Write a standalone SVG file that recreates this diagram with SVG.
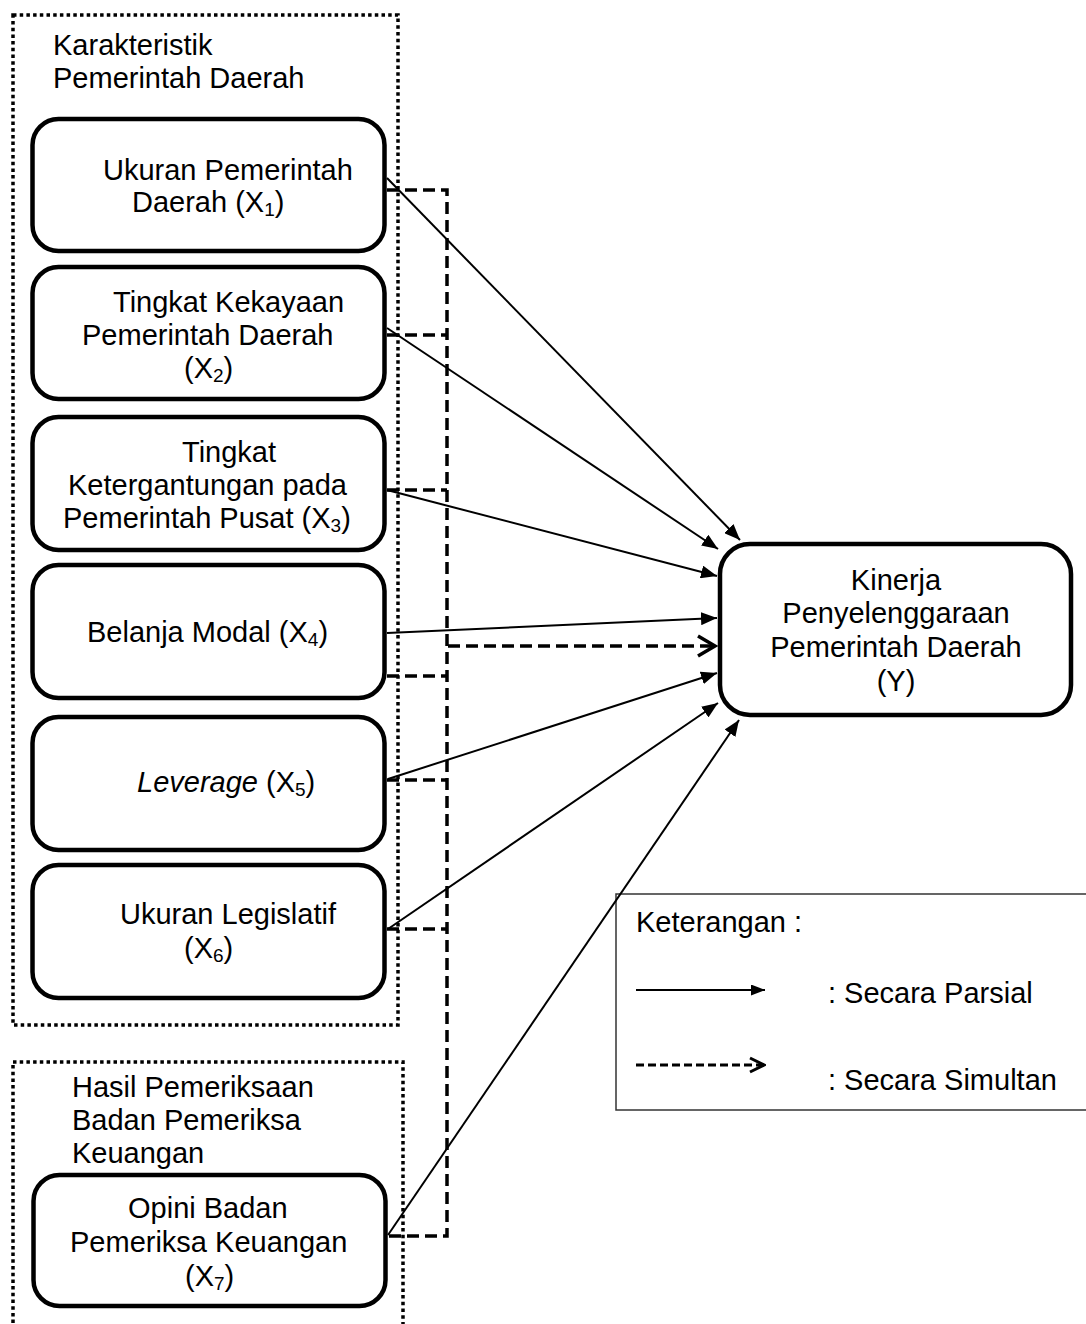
<svg xmlns="http://www.w3.org/2000/svg" width="1086" height="1324" viewBox="0 0 1086 1324">
<style>
text{font-family:"Liberation Sans",Arial,sans-serif;font-size:29px;fill:#000}
.sub{font-size:19px}
.node{fill:#fff;stroke:#000;stroke-width:4.5}
.group{fill:none;stroke:#000;stroke-width:3.5;stroke-dasharray:3.5 3.2}
.solid{fill:none;stroke:#000;stroke-width:2}
.dash{fill:none;stroke:#000;stroke-width:3.5;stroke-dasharray:12 6}
</style>
<defs>
<marker id="ah" viewBox="0 0 16 13" refX="16" refY="6.5" markerWidth="16" markerHeight="13" markerUnits="userSpaceOnUse" orient="auto">
<path d="M0,0 L16,6.5 L0,13 Z" fill="#000"/>
</marker>
<marker id="oh" viewBox="-2 -2 22 24" refX="17" refY="10" markerWidth="22" markerHeight="24" markerUnits="userSpaceOnUse" orient="auto">
<path d="M0,0 L17,10 L0,20" fill="none" stroke="#000" stroke-width="3.5"/>
</marker>
<marker id="ahs" viewBox="0 0 14 11" refX="14" refY="5.5" markerWidth="14" markerHeight="11" markerUnits="userSpaceOnUse" orient="auto">
<path d="M0,0 L14,5.5 L0,11 Z" fill="#000"/>
</marker>
<marker id="ohs" viewBox="-2 -2 18 18" refX="14" refY="7" markerWidth="18" markerHeight="18" markerUnits="userSpaceOnUse" orient="auto">
<path d="M0,0 L14,7 L0,14" fill="none" stroke="#000" stroke-width="3"/>
</marker>
</defs>
<rect width="1086" height="1324" fill="#fff"/>

<g id="group-karakteristik">
<rect class="group" x="13" y="15" width="385" height="1010"/>
<text x="53" y="55">Karakteristik</text>
<text x="53" y="88">Pemerintah Daerah</text>
</g>
<g id="group-hasil">
<rect class="group" x="13" y="1062" width="390" height="300"/>
<text x="72" y="1097">Hasil Pemeriksaan</text>
<text x="72" y="1130">Badan Pemeriksa</text>
<text x="72" y="1163">Keuangan</text>
</g>

<g id="legend">
<rect x="616" y="894" width="490" height="216" fill="none" stroke="#333" stroke-width="1.5"/>
<text x="636" y="932">Keterangan :</text>
<line x1="636" y1="990" x2="765" y2="990" stroke="#000" stroke-width="2" marker-end="url(#ahs)"/>
<text x="828" y="1003">: Secara Parsial</text>
<line x1="636" y1="1065" x2="764" y2="1065" stroke="#000" stroke-width="3" stroke-dasharray="8 4" marker-end="url(#ohs)"/>
<text x="828" y="1090">: Secara Simultan</text>
</g>

<g id="connectors">
<path class="dash" d="M387,190 H447 V1236 H387"/>
<path class="dash" d="M387,335 H447"/>
<path class="dash" d="M387,490 H447"/>
<path class="dash" d="M387,676 H447"/>
<path class="dash" d="M387,780 H447"/>
<path class="dash" d="M387,929 H447"/>
<path class="dash" d="M448,646 H715" marker-end="url(#oh)"/>
<line class="solid" x1="387" y1="178" x2="740" y2="540" marker-end="url(#ah)"/>
<line class="solid" x1="387" y1="328" x2="718" y2="549" marker-end="url(#ah)"/>
<line class="solid" x1="387" y1="490" x2="717" y2="576" marker-end="url(#ah)"/>
<line class="solid" x1="387" y1="633" x2="717" y2="618" marker-end="url(#ah)"/>
<line class="solid" x1="388" y1="779" x2="717" y2="673" marker-end="url(#ah)"/>
<line class="solid" x1="388" y1="929" x2="718" y2="703" marker-end="url(#ah)"/>
<line class="solid" x1="388" y1="1235" x2="739" y2="720" marker-end="url(#ah)"/>
</g>

<g id="x1">
<rect class="node" x="32.5" y="119" width="352" height="132" rx="26"/>
<text x="103" y="180">Ukuran Pemerintah</text>
<text x="132" y="212">Daerah (X<tspan class="sub" dy="4">1</tspan><tspan dy="-4">)</tspan></text>
</g>
<g id="x2">
<rect class="node" x="32.5" y="267" width="352" height="132" rx="26"/>
<text x="113" y="312">Tingkat Kekayaan</text>
<text x="82" y="345">Pemerintah Daerah</text>
<text x="184" y="378">(X<tspan class="sub" dy="4">2</tspan><tspan dy="-4">)</tspan></text>
</g>
<g id="x3">
<rect class="node" x="32.5" y="417" width="352" height="133" rx="26"/>
<text x="182" y="462">Tingkat</text>
<text x="68" y="495">Ketergantungan pada</text>
<text x="63" y="528">Pemerintah Pusat (X<tspan class="sub" dy="4">3</tspan><tspan dy="-4">)</tspan></text>
</g>
<g id="x4">
<rect class="node" x="32.5" y="565" width="352" height="133" rx="26"/>
<text x="87" y="642">Belanja Modal (X<tspan class="sub" dy="4">4</tspan><tspan dy="-4">)</tspan></text>
</g>
<g id="x5">
<rect class="node" x="32.5" y="717" width="352" height="133" rx="26"/>
<text x="137" y="792"><tspan font-style="italic">Leverage</tspan> (X<tspan class="sub" dy="4">5</tspan><tspan dy="-4">)</tspan></text>
</g>
<g id="x6">
<rect class="node" x="32.5" y="865" width="352" height="133" rx="26"/>
<text x="120" y="924">Ukuran Legislatif</text>
<text x="184" y="958">(X<tspan class="sub" dy="4">6</tspan><tspan dy="-4">)</tspan></text>
</g>
<g id="x7">
<rect class="node" x="33.5" y="1175" width="352" height="131" rx="26"/>
<text x="128" y="1218">Opini Badan</text>
<text x="70" y="1252">Pemeriksa Keuangan</text>
<text x="185" y="1286">(X<tspan class="sub" dy="4">7</tspan><tspan dy="-4">)</tspan></text>
</g>
<g id="y">
<rect class="node" x="720" y="544" width="351" height="171" rx="30"/>
<text x="896" y="590" text-anchor="middle">Kinerja</text>
<text x="896" y="623" text-anchor="middle">Penyelenggaraan</text>
<text x="896" y="657" text-anchor="middle">Pemerintah Daerah</text>
<text x="896" y="691" text-anchor="middle">(Y)</text>
</g>
</svg>
